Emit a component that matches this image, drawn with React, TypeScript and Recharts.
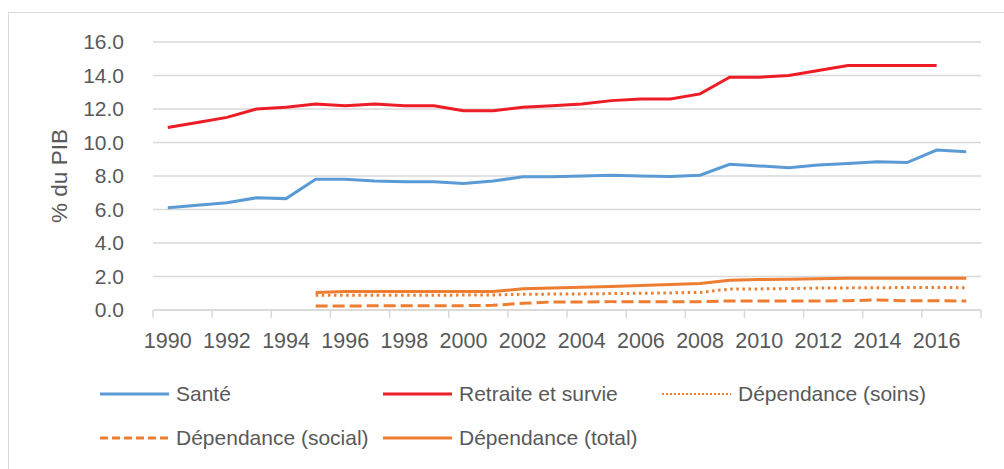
import React from 'react';
import { LineChart, Line, XAxis, YAxis, CartesianGrid } from 'recharts';

const years = [1990, 1991, 1992, 1993, 1994, 1995, 1996, 1997, 1998, 1999, 2000, 2001, 2002, 2003, 2004, 2005, 2006, 2007, 2008, 2009, 2010, 2011, 2012, 2013, 2014, 2015, 2016, 2017];
const sante = [6.1, 6.25, 6.4, 6.7, 6.65, 7.8, 7.8, 7.7, 7.65, 7.65, 7.55, 7.7, 7.95, 7.95, 8.0, 8.05, 8.0, 7.97, 8.05, 8.7, 8.6, 8.5, 8.65, 8.75, 8.85, 8.8, 9.55, 9.45];
const retraite = [10.9, 11.2, 11.5, 12.0, 12.1, 12.3, 12.2, 12.3, 12.2, 12.2, 11.9, 11.9, 12.1, 12.2, 12.3, 12.5, 12.6, 12.6, 12.9, 13.9, 13.9, 14.0, 14.3, 14.6, 14.6, 14.6, 14.6, null];
const soins = [null, null, null, null, null, 0.88, 0.88, 0.88, 0.88, 0.88, 0.89, 0.9, 0.94, 0.95, 0.96, 0.98, 1.0, 1.02, 1.05, 1.25, 1.26, 1.28, 1.31, 1.32, 1.33, 1.34, 1.35, 1.33];
const social = [null, null, null, null, null, 0.24, 0.24, 0.25, 0.25, 0.26, 0.26, 0.28, 0.4, 0.48, 0.48, 0.5, 0.5, 0.5, 0.5, 0.54, 0.54, 0.54, 0.54, 0.55, 0.6, 0.55, 0.55, 0.54];
const total = [null, null, null, null, null, 1.05, 1.1, 1.1, 1.1, 1.1, 1.1, 1.1, 1.27, 1.32, 1.36, 1.41, 1.47, 1.52, 1.58, 1.78, 1.82, 1.83, 1.86, 1.9, 1.9, 1.9, 1.9, 1.9];

const yTicks = [0, 2, 4, 6, 8, 10, 12, 14, 16];
const tickYears = [1990, 1992, 1994, 1996, 1998, 2000, 2002, 2004, 2006, 2008, 2010, 2012, 2014, 2016];

const seriesLabels = {
  sante: 'Santé',
  retraite: 'Retraite et survie',
  soins: 'Dépendance (soins)',
  social: 'Dépendance (social)',
  total: 'Dépendance (total)',
};

const data = years.map((year, i) => ({
  year,
  sante: sante[i],
  retraite: retraite[i],
  soins: soins[i],
  social: social[i],
  total: total[i],
}));

const BLUE = '#5b9bd5';
const RED = '#ee1c25';
const ORANGE = '#ed7d31';
const TEXT = '#595959';
const GRID = '#d9d9d9';
const FONT = '"Liberation Sans", Arial, sans-serif';

const boundaries = [...tickYears.map((y) => y - 0.5), 2017.5];
const allTicks = [...boundaries, ...tickYears].sort((a, b) => a - b);

const XTick = (props: any) => {
  const { x, y, payload } = props;
  const v = payload.value;
  if (Number.isInteger(v)) {
    return (
      <text x={x} y={y + 38} textAnchor="middle" fill={TEXT} fontSize={21.5} fontFamily={FONT}>
        {v}
      </text>
    );
  }
  return <line x1={x} x2={x} y1={y} y2={y + 8} stroke={GRID} strokeWidth={1.5} />;
};

const legendItems = [
  { key: 'sante', color: BLUE, dash: undefined, left: 100, top: 394, w: 3 },
  { key: 'retraite', color: RED, dash: undefined, left: 383, top: 394, w: 3 },
  { key: 'soins', color: ORANGE, dash: '2 2', left: 662, top: 394, w: 2 },
  { key: 'social', color: ORANGE, dash: '8 4', left: 100, top: 438, w: 3 },
  { key: 'total', color: ORANGE, dash: undefined, left: 383, top: 438, w: 3 },
];

export default function App() {
  return (
    <div style={{ position: 'absolute', left: 0, top: 0, width: 1004, height: 469, background: '#fff', overflow: 'hidden' }}>
      <div style={{ position: 'absolute', left: 8, top: 12, width: 1100, height: 600, border: `1.5px solid ${GRID}` }} />
      <div style={{ position: 'absolute', left: 0, top: 0 }}>
        <LineChart width={1004} height={469} data={data} margin={{ top: 42, right: 23, left: 0, bottom: 119 }}>
          <CartesianGrid horizontal vertical={false} stroke={GRID} strokeWidth={1.5} />
          <XAxis
            dataKey="year"
            type="number"
            domain={[1989.5, 2017.5]}
            ticks={allTicks}
            interval={0}
            tick={<XTick />}
            tickLine={false}
            tickSize={0}
            tickMargin={0}
            height={40}
            axisLine={{ stroke: GRID, strokeWidth: 1.5 }}
            allowDataOverflow
          />
          <YAxis
            type="number"
            domain={[0, 16]}
            ticks={yTicks}
            interval={0}
            width={153}
            axisLine={false}
            tickLine={false}
            tickSize={0}
            tickMargin={29}
            tickFormatter={(v: number) => v.toFixed(1)}
            tick={{ fill: TEXT, fontSize: 21, fontFamily: FONT }}
            label={{ value: '% du PIB', angle: -90, position: 'center', dx: -17, fill: TEXT, fontSize: 22.5, fontFamily: FONT }}
          />
          <Line dataKey="sante" stroke={BLUE} strokeWidth={3} dot={false} isAnimationActive={false} connectNulls={false} />
          <Line dataKey="retraite" stroke={RED} strokeWidth={3} dot={false} isAnimationActive={false} connectNulls={false} />
          <Line dataKey="soins" stroke={ORANGE} strokeWidth={3} strokeDasharray="2.5 3.6" dot={false} isAnimationActive={false} connectNulls={false} />
          <Line dataKey="social" stroke={ORANGE} strokeWidth={3} strokeDasharray="12 5" dot={false} isAnimationActive={false} connectNulls={false} />
          <Line dataKey="total" stroke={ORANGE} strokeWidth={3} dot={false} isAnimationActive={false} connectNulls={false} />
        </LineChart>
      </div>
      {legendItems.map((it) => (
        <div key={it.key} style={{ position: 'absolute', left: it.left, top: it.top - 14, height: 28, display: 'flex', alignItems: 'center' }}>
          <svg width={69} height={28} style={{ display: 'block' }}>
            <line x1={0} x2={69} y1={14} y2={14} stroke={it.color} strokeWidth={it.w} strokeDasharray={it.dash} />
          </svg>
          <span style={{ marginLeft: 7, fontFamily: FONT, fontSize: 21, color: TEXT, whiteSpace: 'nowrap', lineHeight: '28px' }}>
            {(seriesLabels as any)[it.key]}
          </span>
        </div>
      ))}
    </div>
  );
}
